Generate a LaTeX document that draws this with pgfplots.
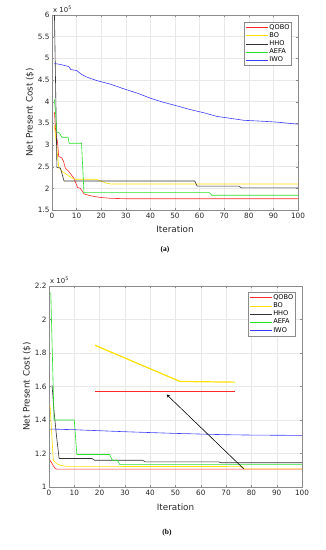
\documentclass[border=0pt]{standalone}
\usepackage{pgfplots}
\pgfplotsset{compat=1.18}
\usepackage{fontspec}
\setmainfont{DejaVu Sans}
\newfontfamily\capfont{Liberation Serif}
\definecolor{colQ}{rgb}{1,0.16,0.16}
\definecolor{colB}{rgb}{1,0.88,0}
\definecolor{colH}{rgb}{0.2,0.2,0.2}
\definecolor{colA}{rgb}{0.16,0.88,0.16}
\definecolor{colI}{rgb}{0.24,0.24,1}
\pgfplotsset{
  myax/.style={
    scale only axis,
    anchor=south west,
    xmin=0,xmax=100,
    xtick={0,10,...,100},
    grid=major,
    major grid style={draw=black!9,line width=0.4pt},
    axis line style={draw=black!45,line width=0.5pt},
    tick style={draw=black!45},
    major tick length=2pt,
    tick align=inside,
    ticklabel style={font=\fontsize{7.3}{8}\selectfont,text=black!85},
    yticklabel style={xshift=1pt},
    /pgf/number format/assume math mode=true,
    label style={font=\fontsize{8.8}{10}\selectfont,text=black!85},
    xlabel={Iteration},
    ylabel={Net Present Cost (\$)},
    legend cell align=left,
    legend style={font=\fontsize{6.6}{7.5}\selectfont,draw=black!45,inner sep=1pt,row sep=-0.6pt,
      nodes={inner sep=1.2pt},
      at={(rel axis cs:0.978,0.965)},anchor=north east},
    legend image code/.code={\draw[#1] (0pt,0pt) -- (22pt,0pt);},
    every axis plot/.append style={line width=0.6pt},
  }
}
\begin{document}
\begin{tikzpicture}
\useasboundingbox (0pt,0pt) rectangle (326pt,550pt);
% ---------------- (a) ----------------
\begin{axis}[myax,
  at={(52pt,340pt)}, width=246pt, height=195pt,
  ymin=1.5,ymax=6, ytick={1.5,2,...,6},
  yticklabels={1.5,2,2.5,3,3.5,4,4.5,5,5.5,6},
  xlabel style={at={(axis description cs:0.5,-0.097)},anchor=center},
  ylabel style={at={(axis description cs:-0.09,0.5)},anchor=center},
  legend style={at={(rel axis cs:0.975,0.965)}},
]
\addplot[draw=colQ] coordinates {(1,3.75)(1.5,3.3)(2.3,3.04)(2.7,2.74)(4,2.70)(4.7,2.62)(5.4,2.47)(6.8,2.39)(8.8,2.24)(10.4,2.02)(11.5,2.0)(12.6,1.91)(13,1.87)(15.6,1.83)(19.6,1.79)(23.7,1.77)(30,1.76)(100,1.76)};
\addlegendentry{QOBO}
\addplot[draw=colB] coordinates {(1,3.45)(2,2.9)(2.7,2.5)(4,2.39)(6,2.32)(8,2.24)(9.5,2.21)(18,2.21)(22,2.12)(24,2.10)(100,2.10)};
\addlegendentry{BO}
\addplot[draw=colH] coordinates {(1,6.0)(2,2.48)(3.4,2.47)(4.9,2.17)(58,2.17)(59,2.05)(76,2.05)(77,2.01)(100,2.01)};
\addlegendentry{HHO}
\addplot[draw=colA] coordinates {(1,4.05)(2,3.3)(3,3.28)(4,3.18)(6.5,3.18)(7,3.04)(12,3.04)(13,1.90)(64,1.90)(65,1.84)(100,1.84)};
\addlegendentry{AEFA}
\addplot[draw=colI] coordinates {(1,4.88)(3.4,4.86)(6.8,4.81)(7.7,4.74)(10,4.72)(12,4.63)(14,4.57)(18,4.49)(24,4.40)(29,4.30)(35,4.19)(40,4.08)(45,3.99)(51,3.90)(56,3.82)(62,3.74)(67,3.66)(72,3.62)(78,3.57)(85,3.55)(91,3.53)(100,3.48)};
\addlegendentry{IWO}
\end{axis}
\node[anchor=south west,inner sep=0pt,font=\fontsize{6.9}{7.5}\selectfont,text=black!85] at (53pt,537pt) {x 10\textsuperscript{5}};
\node[font=\capfont\bfseries\fontsize{7.5}{8}\selectfont] at (165pt,300pt) {(a)};
% ---------------- (b) ----------------
\begin{axis}[myax,
  at={(49pt,63pt)}, width=253pt, height=201pt,
  ymin=1,ymax=2.2, ytick={1,1.2,...,2.2},
  yticklabels={1,1.2,1.4,1.6,1.8,2,2.2},
  xlabel style={at={(axis description cs:0.5,-0.1)},anchor=center},
  ylabel style={at={(axis description cs:-0.087,0.5)},anchor=center},
  legend style={at={(rel axis cs:0.975,0.97)}},
]
\addplot[draw=colQ] coordinates {(0.4,1.16)(2.4,1.11)(3,1.107)(100,1.107)};
\addlegendentry{QOBO}
\addplot[draw=colB] coordinates {(0.4,1.49)(1.7,1.16)(3,1.14)(4.4,1.13)(7,1.123)(76.5,1.122)(77.2,1.108)(100,1.108)};
\addlegendentry{BO}
\addplot[draw=colH] coordinates {(1.2,1.61)(2,1.45)(3,1.30)(4,1.17)(17,1.17)(18,1.16)(37,1.16)(38,1.15)(67,1.15)(68,1.145)(100,1.145)};
\addlegendentry{HHO}
\addplot[draw=colA] coordinates {(0.7,2.16)(2,1.40)(10,1.40)(11,1.194)(24,1.194)(25,1.16)(27,1.16)(28,1.134)(100,1.134)};
\addlegendentry{AEFA}
\addplot[draw=colI] coordinates {(0.4,1.346)(10,1.342)(20,1.336)(30,1.330)(40,1.325)(50,1.320)(60,1.316)(70,1.312)(80,1.310)(90,1.309)(100,1.308)};
\addlegendentry{IWO}
% zoomed inset of QOBO vs BO
\addplot[draw=colB,line width=1.2pt,forget plot] coordinates {(18.2,1.846)(51.8,1.630)(73.6,1.626)};
\addplot[draw=colQ,line width=1.2pt,forget plot] coordinates {(18.2,1.568)(73.6,1.568)};
\draw[-stealth,line width=0.5pt,draw=black,fill=black] (axis cs:77,1.108) -- (axis cs:46.5,1.552);
\end{axis}
\node[anchor=south west,inner sep=0pt,font=\fontsize{6.9}{7.5}\selectfont,text=black!85] at (50pt,266pt) {x 10\textsuperscript{5}};
\node[font=\capfont\bfseries\fontsize{7.5}{8}\selectfont] at (167pt,17pt) {(b)};
\end{tikzpicture}
\end{document}
